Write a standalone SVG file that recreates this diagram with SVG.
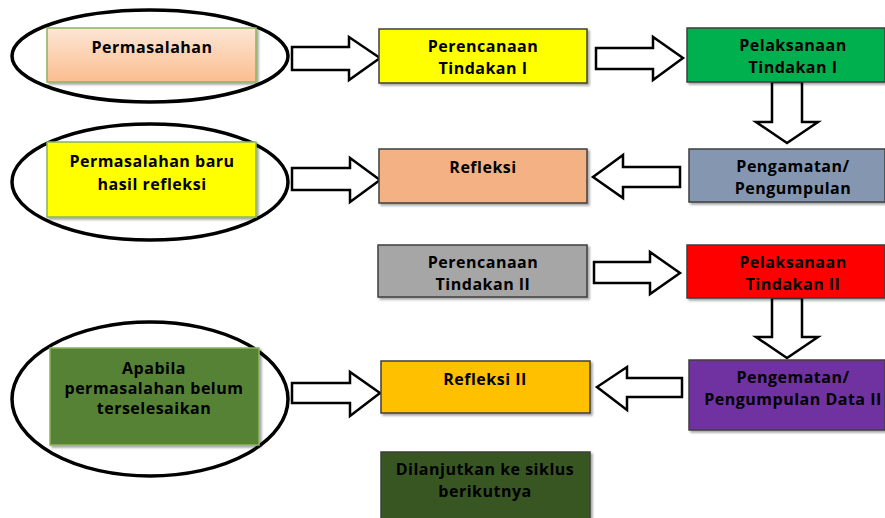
<svg xmlns="http://www.w3.org/2000/svg" width="885" height="518" viewBox="0 0 885 518">
<defs>
<linearGradient id="peach" x1="0" y1="0" x2="0" y2="1">
<stop offset="0" stop-color="#fde6d6"/>
<stop offset="1" stop-color="#fbbd8f"/>
</linearGradient>
<filter id="sh" x="-5%" y="-5%" width="112%" height="120%">
<feDropShadow dx="2" dy="2" stdDeviation="1" flood-color="#000" flood-opacity="0.35"/>
</filter>
</defs>
<style>
text{font-family:"Open Sans","DejaVu Sans",sans-serif;font-weight:bold;font-size:16px;letter-spacing:0.5px;fill:#000;text-anchor:middle}
.box{stroke:#3f3f3f;stroke-width:1.5;filter:url(#sh)}
.gbox{stroke:#8db35d;stroke-width:1.5;filter:url(#sh)}
.ell{fill:none;stroke:#000;stroke-width:3.5}
.arr{fill:#fff;stroke:#000;stroke-width:2.5;stroke-linejoin:miter}
</style>
<rect width="885" height="518" fill="#fff"/>

<g id="connectors">
<polygon class="arr" points="292,47 349,47 349,37 380,58 349,80 349,70 292,70"/>
<polygon class="arr" points="596,48 653,48 653,37 683,58 653,80 653,69 596,69"/>
<polygon class="arr" points="772,82 802,82 802,122 818,122 787,143 756,122 772,122"/>
<polygon class="arr" points="680,167 623,167 623,155 593,177 623,198 623,187 680,187"/>
<polygon class="arr" points="292,168 350,168 350,158 380,180 350,202 350,190 292,190"/>
<polygon class="arr" points="594,262 650,262 650,252 680,273 650,294 650,283 594,283"/>
<polygon class="arr" points="772,298 802,298 802,337 818,337 787,358 756,337 772,337"/>
<polygon class="arr" points="682,378 627,378 627,367 597,387 627,410 627,397 682,397"/>
<polygon class="arr" points="292,383 350,383 350,372 380,393 350,416 350,403 292,403"/>
</g>

<g id="permasalahan">
<ellipse class="ell" cx="150" cy="56" rx="138" ry="46"/>
<rect class="gbox" x="47" y="28" width="209" height="54" fill="url(#peach)"/>
<text x="152" y="53">Permasalahan</text>
</g>

<g id="perencanaan1">
<rect class="box" x="379" y="29" width="208" height="54" fill="#ffff00"/>
<text x="483" y="52">Perencanaan</text>
<text x="483" y="74">Tindakan I</text>
</g>

<g id="pelaksanaan1">
<rect class="box" x="687" y="28" width="198" height="54" fill="#00b050"/>
<text x="793" y="51">Pelaksanaan</text>
<text x="793" y="73">Tindakan I</text>
</g>

<g id="pengamatan1">
<rect class="box" x="689" y="149" width="196" height="53" fill="#8496b0"/>
<text x="793" y="172">Pengamatan/</text>
<text x="793" y="194">Pengumpulan</text>
</g>

<g id="refleksi1">
<rect class="box" x="379" y="149" width="208" height="54" fill="#f4b183"/>
<text x="483" y="173">Refleksi</text>
</g>

<g id="permasalahan-baru">
<ellipse class="ell" cx="150" cy="182" rx="138" ry="58"/>
<rect class="gbox" x="47" y="142" width="209" height="75" fill="#ffff00"/>
<text x="152" y="167">Permasalahan baru</text>
<text x="152" y="190">hasil refleksi</text>
</g>

<g id="perencanaan2">
<rect class="box" x="378" y="245" width="209" height="52" fill="#a6a6a6"/>
<text x="483" y="268">Perencanaan</text>
<text x="483" y="290">Tindakan II</text>
</g>

<g id="pelaksanaan2">
<rect class="box" x="687" y="245" width="198" height="53" fill="#ff0000"/>
<text x="793" y="268">Pelaksanaan</text>
<text x="793" y="290">Tindakan II</text>
</g>

<g id="pengamatan2">
<rect class="box" x="689" y="360" width="196" height="70" fill="#7030a0"/>
<text x="793" y="383">Pengematan/</text>
<text x="793" y="405">Pengumpulan Data II</text>
</g>

<g id="refleksi2">
<rect class="box" x="381" y="361" width="209" height="52" fill="#ffc000"/>
<text x="485" y="385">Refleksi II</text>
</g>

<g id="apabila">
<ellipse class="ell" cx="150" cy="399" rx="138" ry="77"/>
<rect class="gbox" x="50" y="348" width="209" height="97" fill="#548235"/>
<text x="154" y="374">Apabila</text>
<text x="154" y="394">permasalahan belum</text>
<text x="154" y="414">terselesaikan</text>
</g>

<g id="dilanjutkan">
<rect class="box" x="381" y="452" width="209" height="70" fill="#375623"/>
<text x="485" y="475">Dilanjutkan ke siklus</text>
<text x="485" y="497">berikutnya</text>
</g>
</svg>
